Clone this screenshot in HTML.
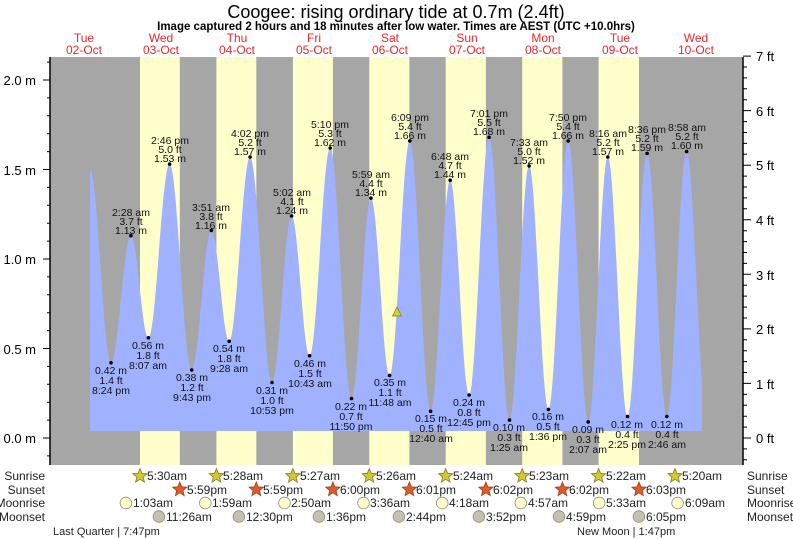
<!DOCTYPE html>
<html><head><meta charset="utf-8"><style>
html,body{margin:0;padding:0;background:#fff;}
svg{display:block;font-family:"Liberation Sans",sans-serif;}
</style></head><body>
<svg width="793" height="539" viewBox="0 0 793 539" xmlns="http://www.w3.org/2000/svg">
<defs>
<polygon id="st" points="0,-7.5 1.94,-2.67 7.13,-2.32 3.14,1.02 4.41,6.07 0,3.3 -4.41,6.07 -3.14,1.02 -7.13,-2.32 -1.94,-2.67"/>
<clipPath id="c"><rect x="90" y="50" width="612" height="400"/></clipPath>
</defs>
<rect width="793" height="539" fill="#fff"/>
<text x="396" y="18" font-size="18" text-anchor="middle" fill="#000">Coogee: rising  ordinary tide at 0.7m (2.4ft)</text>
<text x="396" y="30" font-size="11.5" font-weight="bold" text-anchor="middle" fill="#000">Image captured 2 hours and 18 minutes after low water. Times are AEST (UTC +10.0hrs)</text>
<g font-size="12" fill="#e82828" text-anchor="middle">
<text x="84" y="42">Tue</text><text x="84" y="54">02-Oct</text>
<text x="161" y="42">Wed</text><text x="161" y="54">03-Oct</text>
<text x="237" y="42">Thu</text><text x="237" y="54">04-Oct</text>
<text x="314" y="42">Fri</text><text x="314" y="54">05-Oct</text>
<text x="390" y="42">Sat</text><text x="390" y="54">06-Oct</text>
<text x="467" y="42">Sun</text><text x="467" y="54">07-Oct</text>
<text x="543" y="42">Mon</text><text x="543" y="54">08-Oct</text>
<text x="620" y="42">Tue</text><text x="620" y="54">09-Oct</text>
<text x="696" y="42">Wed</text><text x="696" y="54">10-Oct</text>
</g>
<rect x="50" y="57" width="693" height="408" fill="#a6a6a6"/>
<g fill="#ffffcc">
<rect x="140" y="57" width="39.8" height="408"/>
<rect x="216.4" y="57" width="39.9" height="408"/>
<rect x="292.9" y="57" width="40" height="408"/>
<rect x="369.3" y="57" width="40.1" height="408"/>
<rect x="445.7" y="57" width="40.2" height="408"/>
<rect x="522.2" y="57" width="40.2" height="408"/>
<rect x="598.6" y="57" width="40.4" height="408"/>
</g>
<path clip-path="url(#c)" fill="#a0b2ff" d="M90,431 L90,169.5
C97.6,169.5 103.4,362.8 111,362.8
C118.2,362.8 123.7,235.7 130.9,235.7
C137.3,235.7 142.0,337.8 148.4,337.8
C156.1,337.8 161.9,164.1 169.6,164.1
C177.6,164.1 183.6,370.0 191.7,370.0
C198.8,370.0 204.2,230.4 211.3,230.4
C217.8,230.4 222.7,341.3 229.2,341.3
C236.8,341.3 242.5,157.0 250.1,157.0
C258.1,157.0 264.0,382.5 272.0,382.5
C279.1,382.5 284.5,216.0 291.6,216.0
C298.2,216.0 303.0,355.7 309.6,355.7
C317.1,355.7 322.7,148.0 330.2,148.0
C338.0,148.0 343.7,398.6 351.5,398.6
C358.6,398.6 363.9,198.1 371.0,198.1
C377.8,198.1 382.8,375.4 389.6,375.4
C397.0,375.4 402.4,140.9 409.8,140.9
C417.4,140.9 423.0,411.2 430.6,411.2
C437.7,411.2 443.1,180.2 450.2,180.2
C457.1,180.2 462.2,395.0 469.1,395.0
C476.4,395.0 481.8,137.3 489.1,137.3
C496.5,137.3 502.1,420.1 509.5,420.1
C516.6,420.1 522.0,165.9 529.1,165.9
C536.1,165.9 541.4,409.4 548.4,409.4
C555.6,409.4 561.0,140.9 568.2,140.9
C575.5,140.9 580.9,421.9 588.2,421.9
C595.3,421.9 600.7,157.0 607.8,157.0
C615.0,157.0 620.3,416.5 627.5,416.5
C634.6,416.5 640.0,153.4 647.1,153.4
C654.3,153.4 659.6,416.5 666.8,416.5
C674.0,416.5 679.4,151.6 686.6,151.6
C693.9,151.6 699.3,416.5 706.5,416.5
L706.5,431 Z"/>
<polygon points="397,307 392.5,316 401.5,316" fill="#d8d030" stroke="#807818" stroke-width="0.7"/>
<g fill="#000">
<circle cx="130.9" cy="235.7" r="1.8"/><circle cx="169.6" cy="164.1" r="1.8"/><circle cx="211.3" cy="230.4" r="1.8"/><circle cx="250.1" cy="157" r="1.8"/><circle cx="291.6" cy="216" r="1.8"/><circle cx="330.2" cy="148" r="1.8"/><circle cx="371" cy="198.1" r="1.8"/><circle cx="409.8" cy="140.9" r="1.8"/><circle cx="450.2" cy="180.2" r="1.8"/><circle cx="489.1" cy="137.3" r="1.8"/><circle cx="529.1" cy="165.9" r="1.8"/><circle cx="568.2" cy="140.9" r="1.8"/><circle cx="607.8" cy="157" r="1.8"/><circle cx="647.1" cy="153.4" r="1.8"/><circle cx="686.6" cy="151.6" r="1.8"/>
<circle cx="111" cy="362.8" r="1.8"/><circle cx="148.4" cy="337.8" r="1.8"/><circle cx="191.7" cy="370" r="1.8"/><circle cx="229.2" cy="341.3" r="1.8"/><circle cx="272" cy="382.5" r="1.8"/><circle cx="309.6" cy="355.7" r="1.8"/><circle cx="351.5" cy="398.6" r="1.8"/><circle cx="389.6" cy="375.4" r="1.8"/><circle cx="430.6" cy="411.2" r="1.8"/><circle cx="469.1" cy="395" r="1.8"/><circle cx="509.5" cy="420.1" r="1.8"/><circle cx="548.4" cy="409.4" r="1.8"/><circle cx="588.2" cy="421.9" r="1.8"/><circle cx="627.5" cy="416.5" r="1.8"/><circle cx="666.8" cy="416.5" r="1.8"/>
</g>
<g font-size="10.5" fill="#111" text-anchor="middle">
<text x="131" y="216">2:28 am</text><text x="131" y="225">3.7 ft</text><text x="131" y="234">1.13 m</text>
<text x="170" y="144">2:46 pm</text><text x="170" y="153">5.0 ft</text><text x="170" y="162">1.53 m</text>
<text x="211" y="211">3:51 am</text><text x="211" y="220">3.8 ft</text><text x="211" y="229">1.16 m</text>
<text x="250" y="137">4:02 pm</text><text x="250" y="146">5.2 ft</text><text x="250" y="155">1.57 m</text>
<text x="292" y="196">5:02 am</text><text x="292" y="205">4.1 ft</text><text x="292" y="214">1.24 m</text>
<text x="330" y="128">5:10 pm</text><text x="330" y="137">5.3 ft</text><text x="330" y="146">1.62 m</text>
<text x="371" y="178">5:59 am</text><text x="371" y="187">4.4 ft</text><text x="371" y="196">1.34 m</text>
<text x="410" y="121">6:09 pm</text><text x="410" y="130">5.4 ft</text><text x="410" y="139">1.66 m</text>
<text x="450" y="160">6:48 am</text><text x="450" y="169">4.7 ft</text><text x="450" y="178">1.44 m</text>
<text x="489" y="117">7:01 pm</text><text x="489" y="126">5.5 ft</text><text x="489" y="135">1.68 m</text>
<text x="529" y="146">7:33 am</text><text x="529" y="155">5.0 ft</text><text x="529" y="164">1.52 m</text>
<text x="568" y="121">7:50 pm</text><text x="568" y="130">5.4 ft</text><text x="568" y="139">1.66 m</text>
<text x="608" y="137">8:16 am</text><text x="608" y="146">5.2 ft</text><text x="608" y="155">1.57 m</text>
<text x="647" y="133">8:36 pm</text><text x="647" y="142">5.2 ft</text><text x="647" y="151">1.59 m</text>
<text x="687" y="131">8:58 am</text><text x="687" y="140">5.2 ft</text><text x="687" y="149">1.60 m</text>
<text x="111" y="374">0.42 m</text><text x="111" y="384">1.4 ft</text><text x="111" y="394">8:24 pm</text>
<text x="148" y="349">0.56 m</text><text x="148" y="359">1.8 ft</text><text x="148" y="369">8:07 am</text>
<text x="192" y="381">0.38 m</text><text x="192" y="391">1.2 ft</text><text x="192" y="401">9:43 pm</text>
<text x="229" y="352">0.54 m</text><text x="229" y="362">1.8 ft</text><text x="229" y="372">9:28 am</text>
<text x="272" y="394">0.31 m</text><text x="272" y="404">1.0 ft</text><text x="272" y="414">10:53 pm</text>
<text x="310" y="367">0.46 m</text><text x="310" y="377">1.5 ft</text><text x="310" y="387">10:43 am</text>
<text x="351" y="410">0.22 m</text><text x="351" y="420">0.7 ft</text><text x="351" y="430">11:50 pm</text>
<text x="390" y="386">0.35 m</text><text x="390" y="396">1.1 ft</text><text x="390" y="406">11:48 am</text>
<text x="431" y="422">0.15 m</text><text x="431" y="432">0.5 ft</text><text x="431" y="442">12:40 am</text>
<text x="469" y="406">0.24 m</text><text x="469" y="416">0.8 ft</text><text x="469" y="426">12:45 pm</text>
<text x="509" y="431">0.10 m</text><text x="509" y="441">0.3 ft</text><text x="509" y="451">1:25 am</text>
<text x="548" y="420">0.16 m</text><text x="548" y="430">0.5 ft</text><text x="548" y="440">1:36 pm</text>
<text x="588" y="433">0.09 m</text><text x="588" y="443">0.3 ft</text><text x="588" y="453">2:07 am</text>
<text x="627" y="428">0.12 m</text><text x="627" y="438">0.4 ft</text><text x="627" y="448">2:25 pm</text>
<text x="667" y="428">0.12 m</text><text x="667" y="438">0.4 ft</text><text x="667" y="448">2:46 am</text>
</g>
<g stroke="#000" fill="none">
<line x1="50" y1="57" x2="50" y2="465" stroke-width="1.5"/>
<line x1="743" y1="57" x2="743" y2="465" stroke-width="1.5"/>
<path stroke-width="1" d="M50,455.9H47 M50,438H43 M50,420.1H47 M50,402.2H47 M50,384.3H47 M50,366.4H47 M50,348.5H43 M50,330.6H47 M50,312.7H47 M50,294.8H47 M50,276.9H47 M50,259H43 M50,241.1H47 M50,223.2H47 M50,205.3H47 M50,187.4H47 M50,169.5H43 M50,151.6H47 M50,133.7H47 M50,115.8H47 M50,97.9H47 M50,80H43 M50,62.1H47"/>
<path stroke-width="1" d="M743,459.8H747 M743,448.9H747 M743,438H751 M743,427.1H747 M743,416.2H747 M743,405.3H747 M743,394.4H747 M743,383.4H751 M743,372.5H747 M743,361.6H747 M743,350.8H747 M743,339.8H747 M743,328.9H751 M743,318H747 M743,307.1H747 M743,296.1H747 M743,285.2H747 M743,274.3H751 M743,263.4H747 M743,252.5H747 M743,241.6H747 M743,230.7H747 M743,219.8H751 M743,208.8H747 M743,197.9H747 M743,187H747 M743,176.1H747 M743,165.2H751 M743,154.3H747 M743,143.4H747 M743,132.5H747 M743,121.6H747 M743,110.6H751 M743,99.7H747 M743,88.8H747 M743,77.9H747 M743,67H747 M743,56.1H751"/>
</g>
<g font-size="13" fill="#000">
<text x="36" y="85" text-anchor="end">2.0 m</text>
<text x="36" y="175" text-anchor="end">1.5 m</text>
<text x="36" y="264" text-anchor="end">1.0 m</text>
<text x="36" y="354" text-anchor="end">0.5 m</text>
<text x="36" y="443" text-anchor="end">0.0 m</text>
<text x="756" y="443">0 ft</text>
<text x="756" y="389">1 ft</text>
<text x="756" y="334">2 ft</text>
<text x="756" y="280">3 ft</text>
<text x="756" y="225">4 ft</text>
<text x="756" y="170">5 ft</text>
<text x="756" y="116">6 ft</text>
<text x="756" y="61">7 ft</text>
</g>
<g font-size="12" fill="#222">
<text x="45" y="480" text-anchor="end">Sunrise</text>
<text x="45" y="494" text-anchor="end">Sunset</text>
<text x="45" y="507" text-anchor="end">Moonrise</text>
<text x="45" y="521" text-anchor="end">Moonset</text>
<text x="747" y="480">Sunrise</text>
<text x="747" y="494">Sunset</text>
<text x="747" y="507">Moonrise</text>
<text x="747" y="521">Moonset</text>
</g>
<g fill="#d4c832" stroke="#8a7a20" stroke-width="0.8">
<use href="#st" x="140" y="476"/><use href="#st" x="216.4" y="476"/><use href="#st" x="292.9" y="476"/><use href="#st" x="369.3" y="476"/><use href="#st" x="445.7" y="476"/><use href="#st" x="522.2" y="476"/><use href="#st" x="598.6" y="476"/><use href="#st" x="675" y="476"/>
</g>
<g fill="#e05a2a" stroke="#a04020" stroke-width="0.8">
<use href="#st" x="179.8" y="489.5"/><use href="#st" x="256.3" y="489.5"/><use href="#st" x="332.9" y="489.5"/><use href="#st" x="409.4" y="489.5"/><use href="#st" x="485.9" y="489.5"/><use href="#st" x="562.4" y="489.5"/><use href="#st" x="639" y="489.5"/>
</g>
<g fill="#ffffcc" stroke="#8a8a80" stroke-width="0.8">
<circle cx="125.9" cy="503" r="5.8"/><circle cx="205.3" cy="503" r="5.8"/><circle cx="284.5" cy="503" r="5.8"/><circle cx="363.5" cy="503" r="5.8"/><circle cx="442.2" cy="503" r="5.8"/><circle cx="520.8" cy="503" r="5.8"/><circle cx="599.2" cy="503" r="5.8"/><circle cx="677.6" cy="503" r="5.8"/>
</g>
<g fill="#c4c0ae" stroke="#8a8a80" stroke-width="0.8">
<circle cx="158.9" cy="516.5" r="5.8"/><circle cx="238.8" cy="516.5" r="5.8"/><circle cx="318.9" cy="516.5" r="5.8"/><circle cx="398.9" cy="516.5" r="5.8"/><circle cx="478.9" cy="516.5" r="5.8"/><circle cx="559" cy="516.5" r="5.8"/><circle cx="638.9" cy="516.5" r="5.8"/>
</g>
<g font-size="12" fill="#222">
<text x="147" y="480">5:30am</text><text x="223" y="480">5:28am</text><text x="300" y="480">5:27am</text><text x="376" y="480">5:26am</text><text x="453" y="480">5:24am</text><text x="529" y="480">5:23am</text><text x="606" y="480">5:22am</text><text x="682" y="480">5:20am</text>
<text x="187" y="494">5:59pm</text><text x="263" y="494">5:59pm</text><text x="340" y="494">6:00pm</text><text x="416" y="494">6:01pm</text><text x="493" y="494">6:02pm</text><text x="569" y="494">6:02pm</text><text x="646" y="494">6:03pm</text>
<text x="133" y="507">1:03am</text><text x="212" y="507">1:59am</text><text x="291" y="507">2:50am</text><text x="370" y="507">3:36am</text><text x="449" y="507">4:18am</text><text x="528" y="507">4:57am</text><text x="606" y="507">5:33am</text><text x="685" y="507">6:09am</text>
<text x="166" y="521">11:26am</text><text x="246" y="521">12:30pm</text><text x="326" y="521">1:36pm</text><text x="406" y="521">2:44pm</text><text x="486" y="521">3:52pm</text><text x="566" y="521">4:59pm</text><text x="646" y="521">6:05pm</text>
</g>
<g font-size="11" fill="#222">
<text x="53" y="535">Last Quarter | 7:47pm</text>
<text x="577" y="535">New Moon | 1:47pm</text>
</g>
</svg>
</body></html>
